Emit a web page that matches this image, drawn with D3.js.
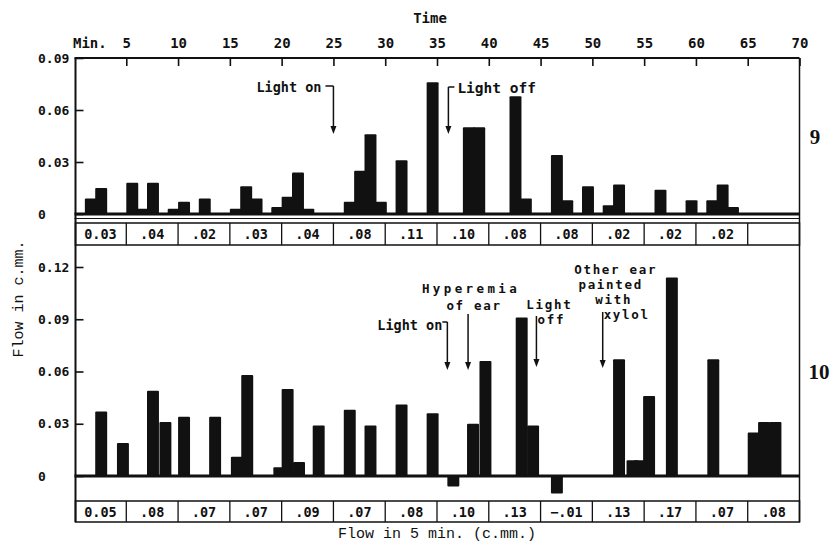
<!DOCTYPE html>
<html><head><meta charset="utf-8">
<script src="https://cdn.jsdelivr.net/npm/d3@7"></script>
<style>
body{margin:0;background:#fff}
svg{display:block}
.mono{font-family:"DejaVu Sans Mono",monospace;font-weight:bold;fill:#111}
.ser{font-family:"Liberation Mono","Courier New",monospace;fill:#111}
</style></head>
<body>
<svg id="c" width="835" height="542"></svg>
<script>
// ---------- data ----------
const minuteTicks = [5,10,15,20,25,30,35,40,45,50,55,60,65,70];
// Experiment 9 (upper): bar start minute and flow per minute (c.mm.)
const topStart = [1,2,5,6,7,9,10,12,15,16,17,19,20,21,22,26,27,28,29,31,34,37.5,38.5,42,43,46,47,49,51,52,56,59,61,62,63];
const topValue = [0.009,0.015,0.018,0.003,0.018,0.003,0.007,0.009,0.003,0.016,0.009,0.004,0.010,0.024,0.003,0.007,0.025,0.046,0.007,0.031,0.076,0.050,0.050,0.068,0.009,0.034,0.008,0.016,0.005,0.017,0.014,0.008,0.008,0.017,0.004];
const topSums = ["0.03",".04",".02",".03",".04",".08",".11",".10",".08",".08",".02",".02",".02",""];
const topYTicks = [0,0.03,0.06,0.09];
const topYLabels = ["0","0.03","0.06","0.09"];
// Experiment 10 (lower)
const botStart = [2,4.1,7,8.2,10,13,15.1,16.1,19.2,20,21.1,23,26,28,31,34,36,37.9,39.1,42.6,43.7,46,52,53.3,54,54.9,57.1,61.1,65,66,67.1];
const botValue = [0.037,0.019,0.049,0.031,0.034,0.034,0.011,0.058,0.005,0.050,0.008,0.029,0.038,0.029,0.041,0.036,-0.006,0.030,0.066,0.091,0.029,-0.010,0.067,0.009,0.009,0.046,0.114,0.067,0.025,0.031,0.031];
const botSums = ["0.05",".08",".07",".07",".09",".07",".08",".10",".13","\u2212.01",".13",".17",".07",".08"];
const botYTicks = [0,0.03,0.06,0.09,0.12];
const botYLabels = ["0","0.03","0.06","0.09","0.12"];
// annotations: minute of arrow, text lines
const topNotes = [{m:25, text:["Light on"]}, {m:36.1, text:["Light off"]}];
const botNotes = [
  {m:36.0, text:["Light on"]},
  {m:38.0, text:["Hyperemia","of ear"]},
  {m:44.6, text:["Light","off"]},
  {m:51.0, text:["Other ear","painted","with","xylol"]}
];

// ---------- layout ----------
const svg = d3.select("#c");
svg.append("rect").attr("width",835).attr("height",542).attr("fill","#fff");
const x = d3.scaleLinear().domain([0,70]).range([74.5,799.5]);
const y1 = d3.scaleLinear().domain([0,0.09]).range([214,58]);
const y2 = d3.scaleLinear().domain([0,0.12]).range([476,267]);
const frameTop = 58, frameBottom = 522;
const box1 = [223,245], box2 = [501,522];
const barW = x(1)-x(0)+1.6;
const ink = "#111";

// frame
svg.append("line").attr("x1",x(0)).attr("x2",x(70)).attr("y1",frameTop).attr("y2",frameTop).attr("stroke",ink).attr("stroke-width",2);
svg.append("line").attr("x1",x(0)+1).attr("x2",x(0)+1).attr("y1",frameTop).attr("y2",frameBottom).attr("stroke",ink).attr("stroke-width",2);
svg.append("line").attr("x1",x(70)).attr("x2",x(70)).attr("y1",frameTop).attr("y2",frameBottom).attr("stroke",ink).attr("stroke-width",1.5);

// top time axis
const ax = svg.append("g").attr("transform",`translate(0,${frameTop})`)
  .call(d3.axisTop(x).tickValues(minuteTicks).tickSize(-8).tickPadding(16));
ax.select(".domain").remove();
ax.selectAll(".tick line").attr("stroke",ink).attr("stroke-width",1.6);
ax.selectAll(".tick text").attr("class","mono").style("font-size","14px").attr("y",-10);
svg.append("text").attr("class","mono").attr("x",73).attr("y",48).style("font-size","14px").text("Min.");
svg.append("text").attr("class","mono").attr("x",430).attr("y",23).attr("text-anchor","middle").style("font-size","14px").text("Time");

function yAxis(scale, ticks, labels){
  const g = svg.append("g").attr("transform",`translate(${x(0)+1},0)`)
    .call(d3.axisLeft(scale).tickValues(ticks).tickSize(-8).tickFormat((d,i)=>labels[i]));
  g.select(".domain").remove();
  g.selectAll(".tick line").attr("stroke",ink).attr("stroke-width",1.6);
  g.selectAll(".tick text").attr("class","mono").style("font-size","13px")
    .attr("text-anchor","start").attr("x",38-(x(0)+1));
}
yAxis(y1, topYTicks, topYLabels);
yAxis(y2, botYTicks, botYLabels);

function bars(starts, values, scale){
  svg.append("g").selectAll("rect").data(starts.map((s,i)=>({s, v:values[i]}))).join("rect")
    .attr("x",d=>x(d.s)).attr("width",barW)
    .attr("y",d=>scale(Math.max(d.v,0)))
    .attr("height",d=>Math.abs(scale(d.v)-scale(0)))
    .attr("rx",1).attr("fill",ink);
  svg.append("line").attr("x1",x(0)).attr("x2",x(70)).attr("y1",scale(0)).attr("y2",scale(0))
    .attr("stroke",ink).attr("stroke-width",3);
}
bars(topStart, topValue, y1);
bars(botStart, botValue, y2);
svg.append("line").attr("x1",x(0)).attr("x2",x(70)).attr("y1",y1(0)+4.5).attr("y2",y1(0)+4.5).attr("stroke",ink).attr("stroke-width",1);

function boxRow(row, labels){
  svg.append("rect").attr("x",x(0)+1).attr("y",row[0]).attr("width",x(70)-x(0)-1).attr("height",row[1]-row[0])
    .attr("fill","none").attr("stroke",ink).attr("stroke-width",1.5);
  const g = svg.append("g");
  g.selectAll("line").data(minuteTicks.slice(0,-1)).join("line")
    .attr("x1",d=>x(d)).attr("x2",d=>x(d)).attr("y1",row[0]).attr("y2",row[1]).attr("stroke",ink).attr("stroke-width",1.3);
  g.selectAll("text").data(labels).join("text").attr("class","mono")
    .attr("x",(d,i)=>x(i*5+2.5)).attr("y",(row[0]+row[1])/2+5).attr("text-anchor","middle")
    .style("font-size","13.5px").text(d=>d);
}
boxRow(box1, topSums);
boxRow(box2, botSums);

// arrows
function arrow(xx, y0, yTip){
  svg.append("line").attr("x1",xx).attr("x2",xx).attr("y1",y0).attr("y2",yTip-6).attr("stroke",ink).attr("stroke-width",1.5);
  svg.append("path").attr("d",`M${xx-3},${yTip-8}L${xx+3},${yTip-8}L${xx},${yTip}Z`).attr("fill",ink);
}
function note(t, xx, yy, size, anchor, ls){
  svg.append("text").attr("class","mono").attr("x",xx).attr("y",yy).attr("text-anchor",anchor||"start")
    .style("font-size",size+"px").style("letter-spacing",(ls||0)+"px").text(t);
}
// top notes
{
  const a = x(topNotes[0].m);
  note(topNotes[0].text[0], a-12, 92, 13.5, "end");
  svg.append("line").attr("x1",a-8).attr("x2",a).attr("y1",86).attr("y2",86).attr("stroke",ink).attr("stroke-width",1.5);
  arrow(a, 86, 134);
  const b = x(topNotes[1].m);
  note(topNotes[1].text[0], b+9, 93, 14.5, "start");
  svg.append("line").attr("x1",b).attr("x2",b+6).attr("y1",87).attr("y2",87).attr("stroke",ink).attr("stroke-width",1.5);
  arrow(b, 87, 134);
}
// bottom notes
{
  const fs = 12.5, ls = 1.7;
  const a = x(botNotes[0].m);
  note(botNotes[0].text[0], a-5, 330, 13.5, "end");
  svg.append("line").attr("x1",a-5).attr("x2",a).attr("y1",322).attr("y2",322).attr("stroke",ink).attr("stroke-width",1.5);
  arrow(a, 322, 370);
  const b = x(botNotes[1].m);
  note(botNotes[1].text[0], b+3, 293, fs, "middle", 3.4);
  note(botNotes[1].text[1], b+6, 310, fs, "middle", ls);
  arrow(b, 314, 370);
  const c = x(botNotes[2].m);
  note(botNotes[2].text[0], c+13, 309, fs, "middle", ls);
  note(botNotes[2].text[1], c+15, 324, fs, "middle", ls);
  arrow(c, 316, 367);
  const d = x(botNotes[3].m);
  note(botNotes[3].text[0], d+13, 274, fs, "middle", ls);
  note(botNotes[3].text[1], d+8, 289, fs, "middle", ls);
  note(botNotes[3].text[2], d+11, 304, fs, "middle", ls);
  note(botNotes[3].text[3], d+24, 319, fs, "middle", ls);
  arrow(d, 312, 368);
}

// series labels & titles
svg.append("text").attr("x",815).attr("y",144).attr("text-anchor","middle")
  .style("font-family","Liberation Serif, serif").style("font-weight","bold").style("font-size","21px").attr("fill",ink).text("9");
svg.append("text").attr("x",819).attr("y",379).attr("text-anchor","middle")
  .style("font-family","Liberation Serif, serif").style("font-weight","bold").style("font-size","21px").attr("fill",ink).text("10");
svg.append("text").attr("class","ser").attr("transform","translate(23,299) rotate(-90)").attr("text-anchor","middle")
  .style("font-size","15px").text("Flow in c.mm.");
svg.append("text").attr("class","ser").attr("x",437).attr("y",538).attr("text-anchor","middle")
  .style("font-size","15px").text("Flow in 5 min. (c.mm.)");
</script>
</body></html>
